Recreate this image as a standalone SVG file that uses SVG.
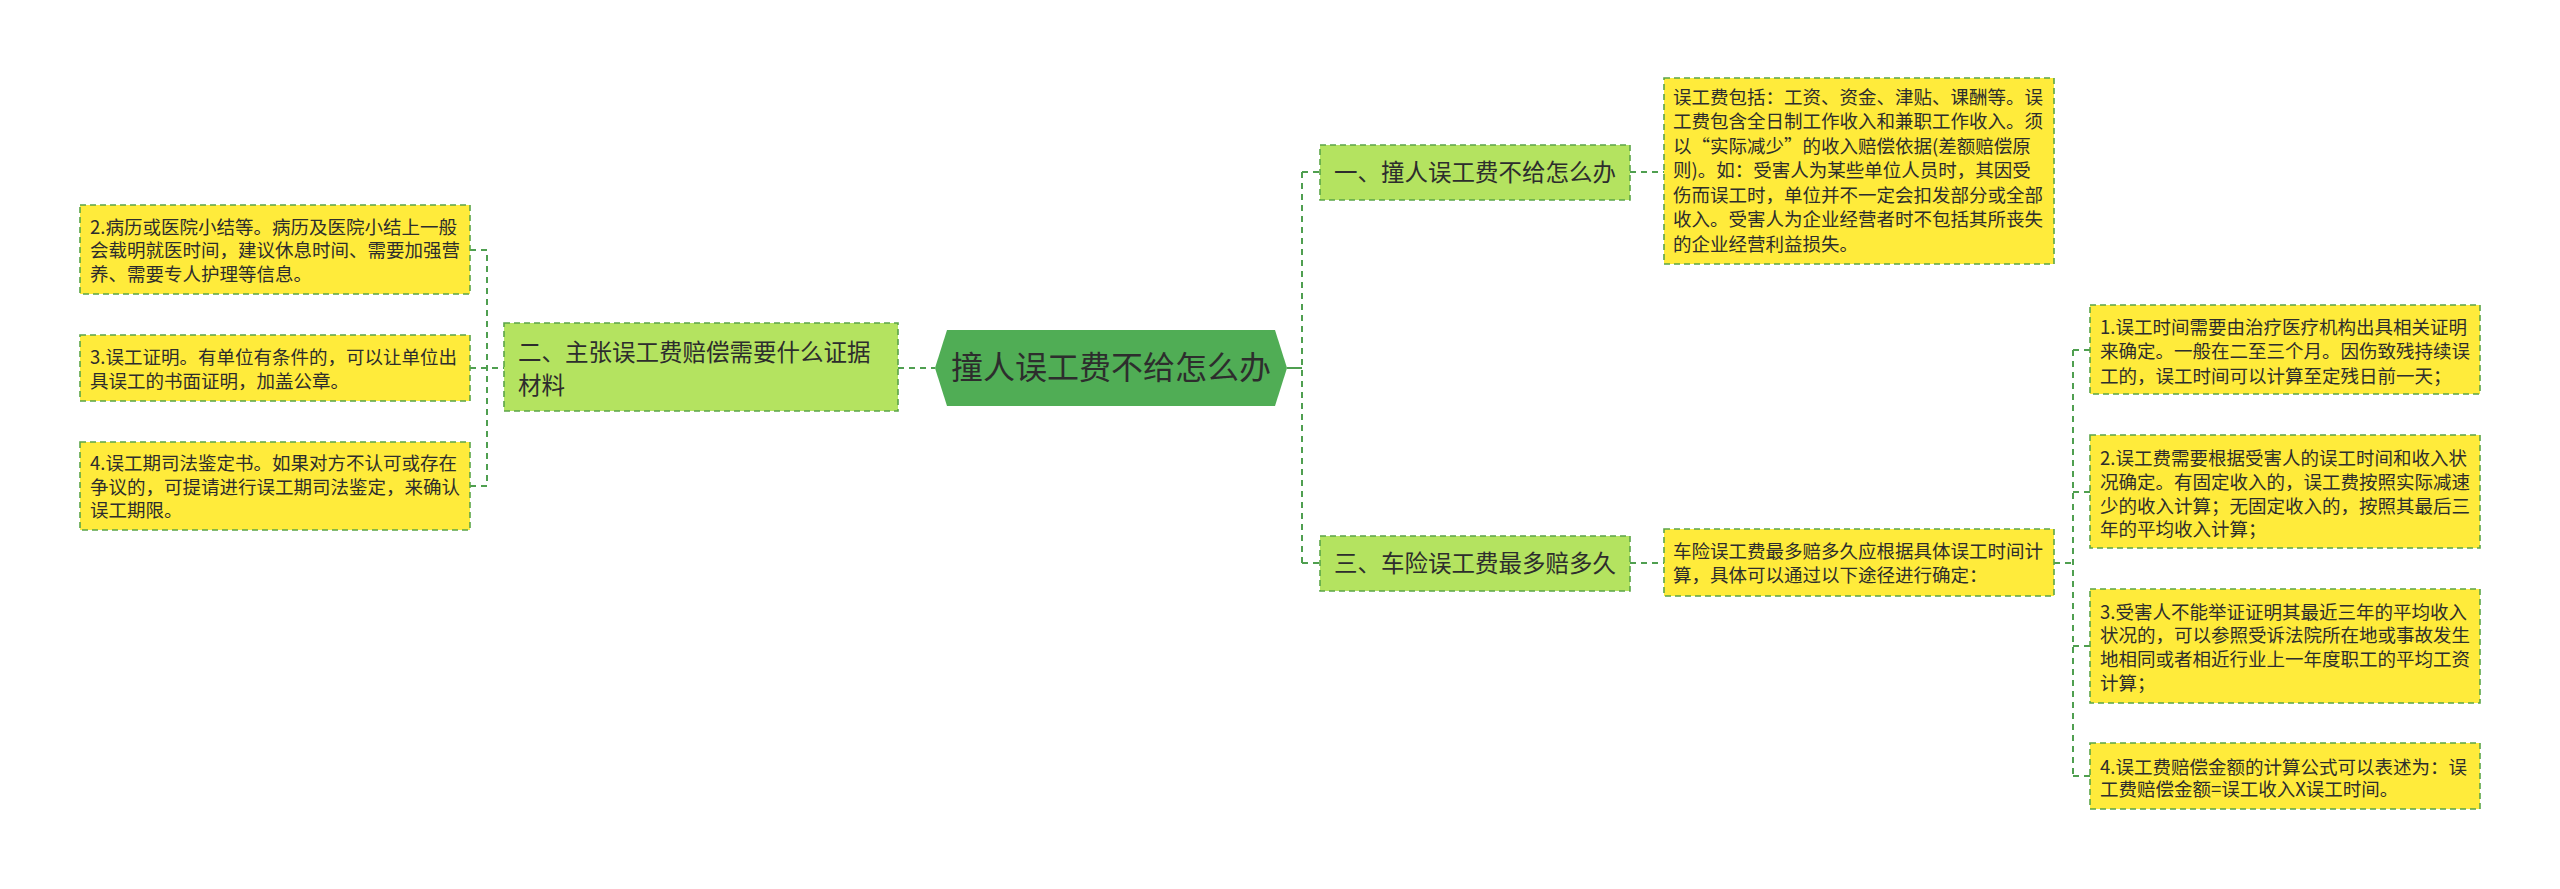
<svg xmlns="http://www.w3.org/2000/svg" width="2560" height="889" viewBox="0 0 2560 889">
<style>
text{font-family:"Noto Sans CJK SC","Liberation Sans",sans-serif;fill:#2d2d2d}
.leaf{fill:#ffeb3b;stroke:#5ba548;stroke-width:1.6;stroke-dasharray:6 4}
.l1{fill:#b4e360;stroke:#5ba548;stroke-width:1.6;stroke-dasharray:6 4}
.t18{font-size:18.5px}
.t23{font-size:23.5px}
.conn{fill:none;stroke:#4f9f50;stroke-width:2;stroke-dasharray:6 5}
.solid{fill:none;stroke:#4f9f50;stroke-width:2}
</style>
<rect width="2560" height="889" fill="#ffffff"/>
<g id="connectors">
<path class="conn" d="M470 250H487V486H470M470 368H504"/>
<path class="conn" d="M898 368H935"/>
<path class="solid" d="M1287 368H1302"/>
<path class="conn" d="M1302 172V563M1302 172H1320M1302 563H1320"/>
<path class="conn" d="M1630 172H1664M1630 563H1664"/>
<path class="conn" d="M2054 563H2073M2073 350V776M2073 350H2090M2073 492H2090M2073 646H2090M2073 776H2090"/>
</g>
<g id="center">
<polygon points="935,368 947,330 1275,330 1287,368 1275,406 947,406" fill="#50ad55"/>
<text x="1111" y="379" font-size="32" text-anchor="middle">撞人误工费不给怎么办</text>
</g>
<g id="n2">
<rect class="l1" x="504" y="323" width="394" height="88"/>
<text class="t23" x="518" y="361">二、主张误工费赔偿需要什么证据</text>
<text class="t23" x="518" y="394">材料</text>
</g>
<g id="L1">
<rect class="leaf" x="80" y="205" width="390" height="89"/>
<text class="t18" x="90" y="233.5">2.病历或医院小结等。病历及医院小结上一般</text>
<text class="t18" x="90" y="257">会载明就医时间，建议休息时间、需要加强营</text>
<text class="t18" x="90" y="280.5">养、需要专人护理等信息。</text>
</g>
<g id="L2">
<rect class="leaf" x="80" y="335" width="390" height="66"/>
<text class="t18" x="90" y="363.5">3.误工证明。有单位有条件的，可以让单位出</text>
<text class="t18" x="90" y="387.5">具误工的书面证明，加盖公章。</text>
</g>
<g id="L3">
<rect class="leaf" x="80" y="442" width="390" height="88"/>
<text class="t18" x="90" y="469.5">4.误工期司法鉴定书。如果对方不认可或存在</text>
<text class="t18" x="90" y="493.5">争议的，可提请进行误工期司法鉴定，来确认</text>
<text class="t18" x="90" y="516.5">误工期限。</text>
</g>
<g id="n1">
<rect class="l1" x="1320" y="145" width="310" height="55"/>
<text class="t23" x="1334" y="180.5">一、撞人误工费不给怎么办</text>
</g>
<g id="n1t">
<rect class="leaf" x="1664" y="78" width="390" height="186"/>
<text class="t18" x="1673" y="103.5">误工费包括：工资、资金、津贴、课酬等。误</text>
<text class="t18" x="1673" y="128">工费包含全日制工作收入和兼职工作收入。须</text>
<text class="t18" x="1673" y="152.5">以“实际减少”的收入赔偿依据(差额赔偿原</text>
<text class="t18" x="1673" y="177">则)。如：受害人为某些单位人员时，其因受</text>
<text class="t18" x="1673" y="201.5">伤而误工时，单位并不一定会扣发部分或全部</text>
<text class="t18" x="1673" y="226">收入。受害人为企业经营者时不包括其所丧失</text>
<text class="t18" x="1673" y="250.5">的企业经营利益损失。</text>
</g>
<g id="n3">
<rect class="l1" x="1320" y="536" width="310" height="55"/>
<text class="t23" x="1334" y="571.5">三、车险误工费最多赔多久</text>
</g>
<g id="n3t">
<rect class="leaf" x="1664" y="529" width="390" height="67"/>
<text class="t18" x="1673" y="557.5">车险误工费最多赔多久应根据具体误工时间计</text>
<text class="t18" x="1673" y="581.5">算，具体可以通过以下途径进行确定：</text>
</g>
<g id="B1">
<rect class="leaf" x="2090" y="305" width="390" height="89"/>
<text class="t18" x="2100" y="333.5">1.误工时间需要由治疗医疗机构出具相关证明</text>
<text class="t18" x="2100" y="358">来确定。一般在二至三个月。因伤致残持续误</text>
<text class="t18" x="2100" y="382.5">工的，误工时间可以计算至定残日前一天；</text>
</g>
<g id="B2">
<rect class="leaf" x="2090" y="435" width="390" height="113"/>
<text class="t18" x="2100" y="464.5">2.误工费需要根据受害人的误工时间和收入状</text>
<text class="t18" x="2100" y="488.5">况确定。有固定收入的，误工费按照实际减速</text>
<text class="t18" x="2100" y="513">少的收入计算；无固定收入的，按照其最后三</text>
<text class="t18" x="2100" y="536">年的平均收入计算；</text>
</g>
<g id="B3">
<rect class="leaf" x="2090" y="589" width="390" height="114"/>
<text class="t18" x="2100" y="618.5">3.受害人不能举证证明其最近三年的平均收入</text>
<text class="t18" x="2100" y="642">状况的，可以参照受诉法院所在地或事故发生</text>
<text class="t18" x="2100" y="665.5">地相同或者相近行业上一年度职工的平均工资</text>
<text class="t18" x="2100" y="689.5">计算；</text>
</g>
<g id="B4">
<rect class="leaf" x="2090" y="743" width="390" height="66"/>
<text class="t18" x="2100" y="773.5">4.误工费赔偿金额的计算公式可以表述为：误</text>
<text class="t18" x="2100" y="796">工费赔偿金额=误工收入X误工时间。</text>
</g>
</svg>
